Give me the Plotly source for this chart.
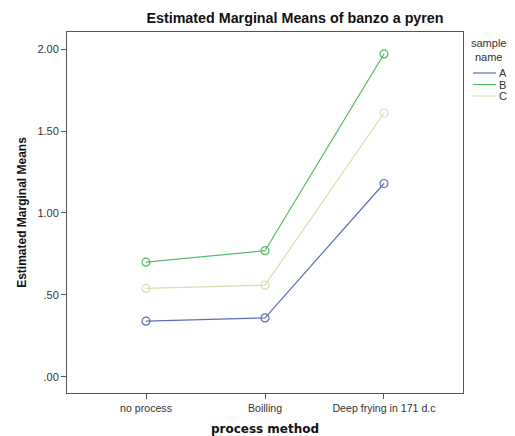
import plotly.graph_objects as go

categories = ["no process", "Boilling", "Deep frying in 171 d.c"]
series_names = ["A", "B", "C"]
values_A = [0.34, 0.36, 1.18]
values_B = [0.70, 0.77, 1.97]
values_C = [0.54, 0.56, 1.61]
tick_vals = [0.0, 0.5, 1.0, 1.5, 2.0]
tick_text = [".00", ".50", "1.00", "1.50", "2.00"]
colors = ["#5b6fb8", "#4fbd60", "#dedbae"]

W, H = 515, 436
L, R, T, B = 67, 52, 32, 43
PW, PH = W - L - R, H - T - B


def px_x(x):
    return (x - L) / PW


def px_y(y):
    return (H - B - y) / PH


fig = go.Figure()
for name, vals, col in zip(series_names, [values_A, values_B, values_C], colors):
    fig.add_trace(go.Scatter(
        x=list(range(len(categories))), y=vals, mode="lines+markers",
        line=dict(color=col, width=1.2),
        marker=dict(symbol="circle-open", size=8, color=col, line=dict(width=1.2)),
        showlegend=False, name=name, cliponaxis=False))

# compact legend like the original
for i, (name, col) in enumerate(zip(series_names, colors)):
    yy = 73 + 11.5 * i
    fig.add_shape(type="line", xref="paper", yref="paper",
                  x0=px_x(473), x1=px_x(496), y0=px_y(yy), y1=px_y(yy),
                  line=dict(color=col, width=1.2))
    fig.add_annotation(text=name, xref="paper", yref="paper",
                       x=px_x(497), y=px_y(yy),
                       xanchor="left", yanchor="middle", showarrow=False,
                       font=dict(size=11, color="#333"))

fig.add_annotation(text="sample<br>name", xref="paper", yref="paper",
                   x=px_x(488), y=px_y(50),
                   xanchor="center", yanchor="middle", showarrow=False,
                   font=dict(size=11, color="#333"))

fig.update_layout(
    width=W, height=H,
    margin=dict(l=L, r=R, t=T, b=B, autoexpand=False),
    paper_bgcolor="white", plot_bgcolor="white",
    font=dict(family="Liberation Sans, Arial", size=10.6, color="#333"),
    title=dict(text="<b>Estimated Marginal Means of banzo a pyren</b>",
               x=295 / W, xanchor="center", y=1 - 18 / H, yanchor="middle",
               font=dict(size=14.3, color="#111")),
    xaxis=dict(range=[-0.664, 2.664], tickvals=list(range(len(categories))),
               ticktext=categories, showgrid=False, zeroline=False,
               showline=True, linecolor="#555", linewidth=1, mirror=True,
               ticks="outside", ticklen=5, tickcolor="#555",
               tickfont=dict(size=10.6, color="#333"),
               title=dict(text="<b>process method</b>", standoff=12,
                          font=dict(family="DejaVu Sans", size=12, color="#111"))),
    yaxis=dict(range=[-0.098, 2.104], tickvals=tick_vals, ticktext=tick_text,
               showgrid=False, zeroline=False,
               showline=True, linecolor="#555", linewidth=1, mirror=True,
               ticks="outside", ticklen=5, tickcolor="#555",
               tickfont=dict(size=11, color="#333"),
               title=dict(text="<b>Estimated Marginal Means</b>", standoff=8,
                          font=dict(size=12, color="#111"))),
    showlegend=False,
)
fig.write_html("out.html", config={"displayModeBar": False},
               post_script="document.body.style.margin='0';document.body.style.overflow='hidden';")
